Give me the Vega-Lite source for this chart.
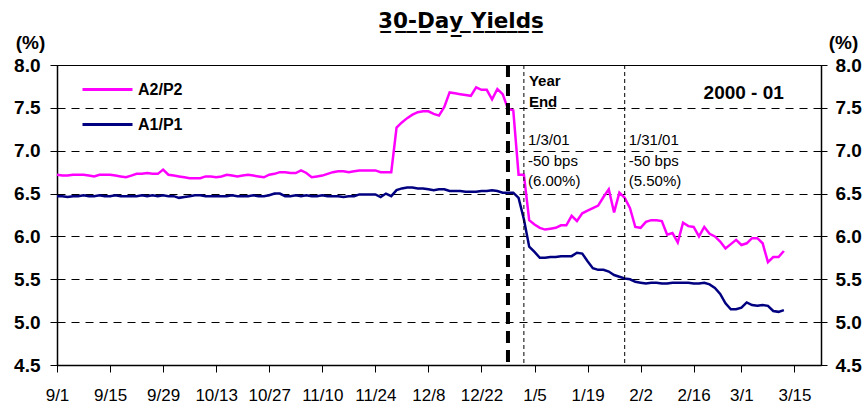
{
  "$schema": "https://vega.github.io/schema/vega-lite/v6.json",
  "autosize": {"type": "none"},
  "width": 764,
  "height": 300,
  "padding": {"left": 57, "top": 65, "right": 46, "bottom": 44},
  "background": "white",
  "title": {
    "text": "3\u03320\u0332-\u0332D\u0332a\u0332y\u0332 \u0332Y\u0332i\u0332e\u0332l\u0332d\u0332s\u0332",
    "font": "DejaVu Sans",
    "fontSize": 21.5,
    "fontWeight": "bold",
    "color": "black",
    "anchor": "middle",
    "dx": 22,
    "offset": 1
  },
  "config": {
    "view": {"stroke": "black", "strokeWidth": 1},
    "font": "Liberation Sans",
    "axis": {
      "labelColor": "black",
      "domainColor": "black",
      "tickColor": "black",
      "titleColor": "black",
      "labelFont": "Liberation Sans",
      "titleFont": "Liberation Sans"
    }
  },
  "datasets": {
    "yields": [
      {"date": "9/1", "A2/P2": 6.72, "A1/P1": 6.47},
      {"date": "9/4", "A2/P2": 6.71, "A1/P1": 6.47},
      {"date": "9/5", "A2/P2": 6.71, "A1/P1": 6.46},
      {"date": "9/6", "A2/P2": 6.72, "A1/P1": 6.47},
      {"date": "9/7", "A2/P2": 6.72, "A1/P1": 6.47},
      {"date": "9/8", "A2/P2": 6.72, "A1/P1": 6.48},
      {"date": "9/11", "A2/P2": 6.71, "A1/P1": 6.47},
      {"date": "9/12", "A2/P2": 6.70, "A1/P1": 6.47},
      {"date": "9/13", "A2/P2": 6.72, "A1/P1": 6.48},
      {"date": "9/14", "A2/P2": 6.72, "A1/P1": 6.47},
      {"date": "9/15", "A2/P2": 6.72, "A1/P1": 6.47},
      {"date": "9/18", "A2/P2": 6.71, "A1/P1": 6.48},
      {"date": "9/19", "A2/P2": 6.70, "A1/P1": 6.47},
      {"date": "9/20", "A2/P2": 6.69, "A1/P1": 6.47},
      {"date": "9/21", "A2/P2": 6.71, "A1/P1": 6.47},
      {"date": "9/22", "A2/P2": 6.73, "A1/P1": 6.47},
      {"date": "9/25", "A2/P2": 6.73, "A1/P1": 6.48},
      {"date": "9/26", "A2/P2": 6.74, "A1/P1": 6.47},
      {"date": "9/27", "A2/P2": 6.73, "A1/P1": 6.48},
      {"date": "9/28", "A2/P2": 6.73, "A1/P1": 6.47},
      {"date": "9/29", "A2/P2": 6.78, "A1/P1": 6.48},
      {"date": "10/2", "A2/P2": 6.72, "A1/P1": 6.47},
      {"date": "10/3", "A2/P2": 6.71, "A1/P1": 6.47},
      {"date": "10/4", "A2/P2": 6.70, "A1/P1": 6.45},
      {"date": "10/5", "A2/P2": 6.69, "A1/P1": 6.46},
      {"date": "10/6", "A2/P2": 6.68, "A1/P1": 6.47},
      {"date": "10/9", "A2/P2": 6.68, "A1/P1": 6.48},
      {"date": "10/10", "A2/P2": 6.68, "A1/P1": 6.48},
      {"date": "10/11", "A2/P2": 6.70, "A1/P1": 6.47},
      {"date": "10/12", "A2/P2": 6.70, "A1/P1": 6.47},
      {"date": "10/13", "A2/P2": 6.69, "A1/P1": 6.47},
      {"date": "10/16", "A2/P2": 6.70, "A1/P1": 6.47},
      {"date": "10/17", "A2/P2": 6.72, "A1/P1": 6.47},
      {"date": "10/18", "A2/P2": 6.71, "A1/P1": 6.48},
      {"date": "10/19", "A2/P2": 6.70, "A1/P1": 6.47},
      {"date": "10/20", "A2/P2": 6.71, "A1/P1": 6.47},
      {"date": "10/23", "A2/P2": 6.72, "A1/P1": 6.47},
      {"date": "10/24", "A2/P2": 6.71, "A1/P1": 6.48},
      {"date": "10/25", "A2/P2": 6.70, "A1/P1": 6.47},
      {"date": "10/26", "A2/P2": 6.69, "A1/P1": 6.47},
      {"date": "10/27", "A2/P2": 6.72, "A1/P1": 6.48},
      {"date": "10/30", "A2/P2": 6.73, "A1/P1": 6.50},
      {"date": "10/31", "A2/P2": 6.75, "A1/P1": 6.50},
      {"date": "11/1", "A2/P2": 6.75, "A1/P1": 6.47},
      {"date": "11/2", "A2/P2": 6.74, "A1/P1": 6.47},
      {"date": "11/3", "A2/P2": 6.74, "A1/P1": 6.48},
      {"date": "11/6", "A2/P2": 6.77, "A1/P1": 6.47},
      {"date": "11/7", "A2/P2": 6.74, "A1/P1": 6.48},
      {"date": "11/8", "A2/P2": 6.69, "A1/P1": 6.47},
      {"date": "11/9", "A2/P2": 6.70, "A1/P1": 6.47},
      {"date": "11/10", "A2/P2": 6.71, "A1/P1": 6.48},
      {"date": "11/13", "A2/P2": 6.73, "A1/P1": 6.47},
      {"date": "11/14", "A2/P2": 6.75, "A1/P1": 6.47},
      {"date": "11/15", "A2/P2": 6.76, "A1/P1": 6.47},
      {"date": "11/16", "A2/P2": 6.76, "A1/P1": 6.46},
      {"date": "11/17", "A2/P2": 6.75, "A1/P1": 6.47},
      {"date": "11/20", "A2/P2": 6.76, "A1/P1": 6.47},
      {"date": "11/21", "A2/P2": 6.77, "A1/P1": 6.49},
      {"date": "11/22", "A2/P2": 6.77, "A1/P1": 6.49},
      {"date": "11/23", "A2/P2": 6.77, "A1/P1": 6.49},
      {"date": "11/24", "A2/P2": 6.77, "A1/P1": 6.49},
      {"date": "11/27", "A2/P2": 6.75, "A1/P1": 6.46},
      {"date": "11/28", "A2/P2": 6.75, "A1/P1": 6.50},
      {"date": "11/29", "A2/P2": 6.75, "A1/P1": 6.47},
      {"date": "11/30", "A2/P2": 7.27, "A1/P1": 6.54},
      {"date": "12/1", "A2/P2": 7.33, "A1/P1": 6.56},
      {"date": "12/4", "A2/P2": 7.38, "A1/P1": 6.57},
      {"date": "12/5", "A2/P2": 7.42, "A1/P1": 6.57},
      {"date": "12/6", "A2/P2": 7.45, "A1/P1": 6.56},
      {"date": "12/7", "A2/P2": 7.46, "A1/P1": 6.56},
      {"date": "12/8", "A2/P2": 7.46, "A1/P1": 6.55},
      {"date": "12/11", "A2/P2": 7.43, "A1/P1": 6.54},
      {"date": "12/12", "A2/P2": 7.41, "A1/P1": 6.55},
      {"date": "12/13", "A2/P2": 7.51, "A1/P1": 6.55},
      {"date": "12/14", "A2/P2": 7.68, "A1/P1": 6.53},
      {"date": "12/15", "A2/P2": 7.67, "A1/P1": 6.53},
      {"date": "12/18", "A2/P2": 7.66, "A1/P1": 6.53},
      {"date": "12/19", "A2/P2": 7.65, "A1/P1": 6.52},
      {"date": "12/20", "A2/P2": 7.64, "A1/P1": 6.52},
      {"date": "12/21", "A2/P2": 7.74, "A1/P1": 6.52},
      {"date": "12/22", "A2/P2": 7.71, "A1/P1": 6.53},
      {"date": "12/25", "A2/P2": 7.71, "A1/P1": 6.53},
      {"date": "12/26", "A2/P2": 7.60, "A1/P1": 6.54},
      {"date": "12/27", "A2/P2": 7.72, "A1/P1": 6.53},
      {"date": "12/28", "A2/P2": 7.66, "A1/P1": 6.51},
      {"date": "12/29", "A2/P2": 7.49, "A1/P1": 6.51},
      {"date": "1/1", "A2/P2": 7.47, "A1/P1": 6.51},
      {"date": "1/2", "A2/P2": 6.72, "A1/P1": 6.45},
      {"date": "1/3", "A2/P2": 6.72, "A1/P1": 6.20},
      {"date": "1/4", "A2/P2": 6.19, "A1/P1": 5.88},
      {"date": "1/5", "A2/P2": 6.14, "A1/P1": 5.82},
      {"date": "1/8", "A2/P2": 6.10, "A1/P1": 5.75},
      {"date": "1/9", "A2/P2": 6.08, "A1/P1": 5.75},
      {"date": "1/10", "A2/P2": 6.09, "A1/P1": 5.76},
      {"date": "1/11", "A2/P2": 6.10, "A1/P1": 5.76},
      {"date": "1/12", "A2/P2": 6.13, "A1/P1": 5.77},
      {"date": "1/15", "A2/P2": 6.13, "A1/P1": 5.77},
      {"date": "1/16", "A2/P2": 6.24, "A1/P1": 5.77},
      {"date": "1/17", "A2/P2": 6.18, "A1/P1": 5.81},
      {"date": "1/18", "A2/P2": 6.27, "A1/P1": 5.80},
      {"date": "1/19", "A2/P2": 6.30, "A1/P1": 5.71},
      {"date": "1/22", "A2/P2": 6.33, "A1/P1": 5.63},
      {"date": "1/23", "A2/P2": 6.36, "A1/P1": 5.61},
      {"date": "1/24", "A2/P2": 6.46, "A1/P1": 5.61},
      {"date": "1/25", "A2/P2": 6.55, "A1/P1": 5.59},
      {"date": "1/26", "A2/P2": 6.28, "A1/P1": 5.55},
      {"date": "1/29", "A2/P2": 6.51, "A1/P1": 5.53},
      {"date": "1/30", "A2/P2": 6.45, "A1/P1": 5.51},
      {"date": "1/31", "A2/P2": 6.33, "A1/P1": 5.50},
      {"date": "2/1", "A2/P2": 6.11, "A1/P1": 5.47},
      {"date": "2/2", "A2/P2": 6.10, "A1/P1": 5.46},
      {"date": "2/5", "A2/P2": 6.17, "A1/P1": 5.45},
      {"date": "2/6", "A2/P2": 6.19, "A1/P1": 5.46},
      {"date": "2/7", "A2/P2": 6.19, "A1/P1": 5.46},
      {"date": "2/8", "A2/P2": 6.18, "A1/P1": 5.45},
      {"date": "2/9", "A2/P2": 6.02, "A1/P1": 5.45},
      {"date": "2/12", "A2/P2": 6.04, "A1/P1": 5.46},
      {"date": "2/13", "A2/P2": 5.93, "A1/P1": 5.46},
      {"date": "2/14", "A2/P2": 6.16, "A1/P1": 5.46},
      {"date": "2/15", "A2/P2": 6.12, "A1/P1": 5.46},
      {"date": "2/16", "A2/P2": 6.11, "A1/P1": 5.45},
      {"date": "2/19", "A2/P2": 6.00, "A1/P1": 5.45},
      {"date": "2/20", "A2/P2": 6.11, "A1/P1": 5.46},
      {"date": "2/21", "A2/P2": 6.03, "A1/P1": 5.44},
      {"date": "2/22", "A2/P2": 6.00, "A1/P1": 5.40},
      {"date": "2/23", "A2/P2": 5.94, "A1/P1": 5.33},
      {"date": "2/26", "A2/P2": 5.86, "A1/P1": 5.22},
      {"date": "2/27", "A2/P2": 5.91, "A1/P1": 5.15},
      {"date": "2/28", "A2/P2": 5.96, "A1/P1": 5.15},
      {"date": "3/1", "A2/P2": 5.90, "A1/P1": 5.17},
      {"date": "3/2", "A2/P2": 5.92, "A1/P1": 5.23},
      {"date": "3/5", "A2/P2": 5.98, "A1/P1": 5.20},
      {"date": "3/6", "A2/P2": 5.98, "A1/P1": 5.19},
      {"date": "3/7", "A2/P2": 5.92, "A1/P1": 5.20},
      {"date": "3/8", "A2/P2": 5.70, "A1/P1": 5.19},
      {"date": "3/9", "A2/P2": 5.76, "A1/P1": 5.13},
      {"date": "3/12", "A2/P2": 5.76, "A1/P1": 5.12},
      {"date": "3/13", "A2/P2": 5.83, "A1/P1": 5.14}
    ],
    "yearEnd": [{"date": "12/29"}],
    "cuts": [{"date": "1/3"}, {"date": "1/30"}],
    "boldNotes": [
      {"date": "1/3", "value": 7.755, "text": "Year"},
      {"date": "1/3", "value": 7.51, "text": "End"}
    ],
    "cutNotes": [
      {"date": "1/3", "value": 7.067, "text": "1/3/01"},
      {"date": "1/3", "value": 6.822, "text": "-50 bps"},
      {"date": "1/3", "value": 6.589, "text": "(6.00%)"},
      {"date": "1/30", "value": 7.067, "text": "1/31/01"},
      {"date": "1/30", "value": 6.822, "text": "-50 bps"},
      {"date": "1/30", "value": 6.589, "text": "(5.50%)"}
    ],
    "period": [{"date": "3/13", "value": 7.604, "text": "2000 - 01"}]
  },
  "encoding": {
    "x": {
      "field": "date",
      "type": "ordinal",
      "scale": {
        "type": "point",
        "padding": 0,
        "domain": ["9/1","9/4","9/5","9/6","9/7","9/8","9/11","9/12","9/13","9/14","9/15","9/18","9/19","9/20","9/21","9/22","9/25","9/26","9/27","9/28","9/29","10/2","10/3","10/4","10/5","10/6","10/9","10/10","10/11","10/12","10/13","10/16","10/17","10/18","10/19","10/20","10/23","10/24","10/25","10/26","10/27","10/30","10/31","11/1","11/2","11/3","11/6","11/7","11/8","11/9","11/10","11/13","11/14","11/15","11/16","11/17","11/20","11/21","11/22","11/23","11/24","11/27","11/28","11/29","11/30","12/1","12/4","12/5","12/6","12/7","12/8","12/11","12/12","12/13","12/14","12/15","12/18","12/19","12/20","12/21","12/22","12/25","12/26","12/27","12/28","12/29","1/1","1/2","1/3","1/4","1/5","1/8","1/9","1/10","1/11","1/12","1/15","1/16","1/17","1/18","1/19","1/22","1/23","1/24","1/25","1/26","1/29","1/30","1/31","2/1","2/2","2/5","2/6","2/7","2/8","2/9","2/12","2/13","2/14","2/15","2/16","2/19","2/20","2/21","2/22","2/23","2/26","2/27","2/28","3/1","3/2","3/5","3/6","3/7","3/8","3/9","3/12","3/13","3/14","3/15","3/16","3/19","3/20","3/21","3/22"]
      },
      "axis": {
        "title": null,
        "values": ["9/1","9/15","9/29","10/13","10/27","11/10","11/24","12/8","12/22","1/5","1/19","2/2","2/16","3/1","3/15"],
        "labelAngle": 0,
        "labelFontSize": 17,
        "labelOverlap": false,
        "labelPadding": 15,
        "tickSize": 7,
        "domainWidth": 1.5,
        "grid": false
      }
    }
  },
  "layer": [
    {
      "data": {"name": "yields"},
      "transform": [{"fold": ["A2/P2", "A1/P1"], "as": ["series", "yield"]}],
      "mark": {"type": "line", "order": false, "strokeWidth": 2.5},
      "encoding": {
        "y": {
          "field": "yield",
          "type": "quantitative",
          "scale": {"domain": [4.5, 8], "nice": false, "zero": false},
          "axis": {
            "orient": "left",
            "values": [4.5, 5, 5.5, 6, 6.5, 7, 7.5, 8],
            "format": ".1f",
            "labelFontSize": 19,
            "labelFontWeight": "bold",
            "labelPadding": 10,
            "tickSize": 7,
            "domainWidth": 1.5,
            "grid": true,
            "gridColor": "black",
            "gridDash": [8, 6],
            "gridWidth": 1,
            "gridOpacity": 1,
            "title": "(%)",
            "titleAngle": 0,
            "titleAlign": "center",
            "titleBaseline": "alphabetic",
            "titleX": -27,
            "titleY": -17,
            "titleFontSize": 19,
            "titleFontWeight": "bold"
          }
        },
        "color": {
          "field": "series",
          "type": "nominal",
          "scale": {"domain": ["A2/P2", "A1/P1"], "range": ["#FF00FF", "#000080"]},
          "legend": {
            "orient": "none",
            "legendX": 24,
            "legendY": -2,
            "direction": "vertical",
            "title": null,
            "symbolType": "stroke",
            "symbolSize": 2500,
            "symbolStrokeWidth": 3,
            "labelFontSize": 16,
            "labelFontWeight": "bold",
            "labelColor": "black",
            "labelFont": "Liberation Sans",
            "labelOffset": 4,
            "rowPadding": -22,
            "padding": 0
          }
        }
      }
    },
    {
      "data": {"name": "yearEnd"},
      "mark": {"type": "rule", "color": "black", "strokeWidth": 4, "strokeDash": [12, 7]},
      "encoding": {}
    },
    {
      "data": {"name": "cuts"},
      "mark": {"type": "rule", "color": "black", "strokeWidth": 1, "strokeDash": [4, 3]},
      "encoding": {}
    },
    {
      "data": {"name": "boldNotes"},
      "mark": {"type": "text", "align": "left", "baseline": "alphabetic", "dx": 5, "fontSize": 15, "fontWeight": "bold", "color": "black"},
      "encoding": {
        "y": {"field": "value", "type": "quantitative", "scale": {"domain": [4.5, 8], "nice": false, "zero": false}, "axis": null},
        "text": {"field": "text"}
      }
    },
    {
      "data": {"name": "cutNotes"},
      "mark": {"type": "text", "align": "left", "baseline": "alphabetic", "dx": 4, "fontSize": 15, "color": "black"},
      "encoding": {
        "y": {"field": "value", "type": "quantitative", "scale": {"domain": [4.5, 8], "nice": false, "zero": false}, "axis": null},
        "text": {"field": "text"}
      }
    },
    {
      "data": {"name": "period"},
      "mark": {"type": "text", "align": "right", "baseline": "alphabetic", "fontSize": 19, "fontWeight": "bold", "color": "black"},
      "encoding": {
        "y": {
          "field": "value",
          "type": "quantitative",
          "scale": {"domain": [4.5, 8], "nice": false, "zero": false},
          "axis": {
            "orient": "right",
            "values": [4.5, 5, 5.5, 6, 6.5, 7, 7.5, 8],
            "format": ".1f",
            "labelFontSize": 19,
            "labelFontWeight": "bold",
            "labelPadding": 8,
            "tickSize": 6,
            "domainWidth": 1.5,
            "grid": false,
            "title": "(%)",
            "titleAngle": 0,
            "titleAlign": "center",
            "titleBaseline": "alphabetic",
            "titleX": 22,
            "titleY": -17,
            "titleFontSize": 19,
            "titleFontWeight": "bold"
          }
        },
        "text": {"field": "text"}
      }
    }
  ],
  "resolve": {"axis": {"y": "independent"}}
}
